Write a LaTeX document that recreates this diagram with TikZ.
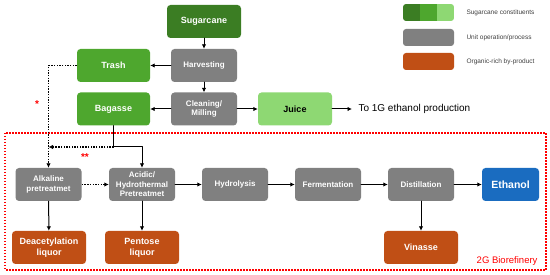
\documentclass[tikz,border=0pt]{standalone}
\usepackage{fontspec}
\setmainfont{Liberation Sans}
\usetikzlibrary{arrows.meta}

\definecolor{caneDark}{HTML}{3B7D23}
\definecolor{caneMid}{HTML}{4EA72E}
\definecolor{caneLight}{HTML}{8ED873}
\definecolor{opGray}{HTML}{808080}
\definecolor{byOrange}{HTML}{C04F15}
\definecolor{ethBlue}{HTML}{1A6CC0}

\begin{document}
\begin{tikzpicture}[
				x=1pt,
				y=-1pt,
				line cap=round,
				line join=round,
				box/.style={rounded corners=3.5pt, minimum height=33pt, inner sep=1pt, align=center, text=white, font=\bfseries\fontsize{9}{11}\selectfont},
				cane/.style={box, fill=caneMid, minimum width=73pt},
				unitop/.style={box, fill=opGray, minimum width=66pt, font=\bfseries\fontsize{8}{9.5}\selectfont},
				byprod/.style={box, fill=byOrange, minimum width=74pt},
				flow/.style={-{Latex[length=4.5pt,width=4.5pt]}, line width=1pt},
				dotflow/.style={flow, line cap=butt, dash pattern=on 1.4pt off 1.3pt, line width=1.3pt},
				legtext/.style={anchor=west, text=black!75, font=\fontsize{6.5}{8}\selectfont}
				]
				\useasboundingbox (0,0) rectangle (550,275);
				
				% 2G frame
				\draw[red, line width=1.5pt, line cap=butt, dash pattern=on 1.5pt off 1.5pt] (5,133) rectangle (546,270);
				\node[anchor=east, text=red, font=\fontsize{9.5}{11}\selectfont] (biolabel) at (541,261) {2G Biorefinery};
				
				% Sugarcane chain
				\node[cane, fill=caneDark, minimum width=74pt] (sugar) at (204,21.5) {Sugarcane};
				\node[unitop] (harv) at (204,65.5) {Harvesting};
				\node[cane] (trash) at (113.5,65.5) {Trash};
				\node[unitop] (clean) at (204,109) {Cleaning/\\Milling};
				\node[cane] (bag) at (113.5,109) {Bagasse};
				\node[cane, fill=caneLight, text=black, minimum width=74pt] (juice) at (295,109) {Juice};
				\coordinate (firstgen) at (352,109);
				\node[anchor=west, font=\fontsize{10}{12}\selectfont] (fglabel) at (355,109) {To 1G ethanol production};
				
				\draw[flow] (sugar) -- (harv);
				\draw[flow] (harv) -- (trash);
				\draw[flow] (harv) -- (clean);
				\draw[flow] (clean) -- (bag);
				\draw[flow] (clean) -- (juice);
				\draw[flow] (juice) -- (firstgen);
				
				% 2G process line
				\node[unitop] (alk) at (48.5,184.5) {Alkaline\\pretreatmet};
				\node[unitop] (acid) at (142,184.5) {Acidic/\\Hydrothermal\\Pretreatmet};
				\node[unitop] (hydro) at (235,184.5) {Hydrolysis};
				\node[unitop] (ferm) at (328,184.5) {Fermentation};
				\node[unitop] (dist) at (421,184.5) {Distillation};
				\node[box, fill=ethBlue, minimum width=57pt, font=\bfseries\fontsize{10.5}{12}\selectfont] (eth) at (510.5,184.5) {Ethanol};
				\node[byprod] (deac) at (49,247.5) {Deacetylation\\liquor};
				\node[byprod] (pent) at (142,247.5) {Pentose\\liquor};
				\node[byprod] (vin) at (421,247.5) {Vinasse};
				
				\coordinate (split) at (113.5,147);
				\coordinate (merge) at (alk.north |- split);
				\draw[dotflow] (trash.west) -| (alk.north);
				\draw[flow] (bag.south) -- (split) -| (acid.north);
				\draw[dotflow] (split) -- (merge);
				\draw[dotflow] (alk) -- (acid);
				\draw[flow] (acid) -- (hydro);
				\draw[flow] (hydro) -- (ferm);
				\draw[flow] (ferm) -- (dist);
				\draw[flow] (dist) -- (eth);
				\draw[flow] (alk) -- (deac);
				\draw[flow] (acid) -- (pent);
				\draw[flow] (dist) -- (vin);
				
				\node[text=red, font=\bfseries\fontsize{10}{11}\selectfont] (star) at (37,104) {*};
				\node[text=red, font=\bfseries\fontsize{10}{11}\selectfont] (stars) at (85,157) {**};
				
				% Legend
				\begin{scope}
					\clip[rounded corners=3pt] (403,4) rectangle (454,21);
					\fill[caneDark] (403,4) rectangle (420,21);
					\fill[caneMid] (420,4) rectangle (437,21);
					\fill[caneLight] (437,4) rectangle (454,21);
				\end{scope}
				\fill[opGray, rounded corners=3pt] (403,29) rectangle (454,46);
				\fill[byOrange, rounded corners=3pt] (403,53) rectangle (454,70);
				\node[legtext] (legcane) at (463,12.5) {Sugarcane constituents};
				\node[legtext] (legop) at (463,37.5) {Unit operation/process};
				\node[legtext] (legby) at (463,61.5) {Organic-rich by-product};
			\end{tikzpicture}
\end{document}
